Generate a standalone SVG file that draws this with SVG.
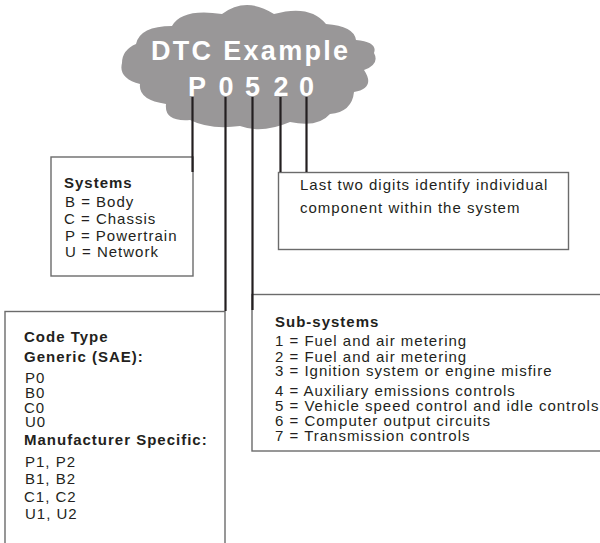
<svg xmlns="http://www.w3.org/2000/svg" width="600" height="543" viewBox="0 0 600 543">
<style>
  .box { fill: #ffffff; stroke: #6b6b6b; stroke-width: 1.4; }
  .conn { stroke: #231f20; stroke-width: 2.2; fill: none; }
  .t { font-family: "Liberation Sans", Arial, sans-serif; font-size: 15px; letter-spacing: 1px; fill: #231f20; }
  .b { font-weight: bold; }
  .cloudtext { font-family: "Liberation Sans", Arial, sans-serif; font-weight: bold; fill: #ffffff; font-size: 27px; }
</style>
<rect width="600" height="543" fill="#ffffff"/>

<g id="cloud">
  <path fill="#999798" d="M 172 26 Q 182 8 222 14 Q 246 -4 274 14 Q 310 4 326 24 Q 354 26 356 40 Q 378 42 374 53 Q 380 64 364 70 Q 376 88 354 92 Q 352 112 330 114 Q 318 128 290 122 Q 262 134 240 126 Q 210 130 190 120 Q 164 122 166 104 Q 138 100 140 84 Q 118 78 122 63 Q 122 50 136 44 Q 140 26 172 26 Z"/>
  <text class="cloudtext" x="151" y="60" letter-spacing="2.3">DTC Example</text>
  <text class="cloudtext" y="96" text-anchor="middle"><tspan x="197">P</tspan><tspan x="226">0</tspan><tspan x="252.5">5</tspan><tspan x="281">2</tspan><tspan x="306.5">0</tspan></text>
</g>

<g id="systems">
  <rect class="box" x="51" y="157" width="142" height="119"/>
  <text class="t b" x="64" y="188">Systems</text>
  <text class="t" x="65" y="207">B = Body</text>
  <text class="t" x="64" y="224">C = Chassis</text>
  <text class="t" x="65" y="241">P = Powertrain</text>
  <text class="t" x="65" y="257">U = Network</text>
</g>

<g id="last-two">
  <rect class="box" x="278.5" y="172.5" width="290" height="77"/>
  <text class="t" x="300" y="190">Last two digits identify individual</text>
  <text class="t" x="300" y="213">component within the system</text>
</g>

<g id="code-type">
  <rect class="box" x="5" y="311.5" width="220" height="240"/>
  <text class="t b" x="24" y="342">Code Type</text>
  <text class="t b" x="24" y="362">Generic (SAE):</text>
  <text class="t" x="25" y="383">P0</text>
  <text class="t" x="25" y="398">B0</text>
  <text class="t" x="24" y="413">C0</text>
  <text class="t" x="25" y="427">U0</text>
  <text class="t b" x="24" y="445">Manufacturer Specific:</text>
  <text class="t" x="25" y="467">P1, P2</text>
  <text class="t" x="25" y="484">B1, B2</text>
  <text class="t" x="24" y="502">C1, C2</text>
  <text class="t" x="25" y="519">U1, U2</text>
</g>

<g id="sub-systems">
  <rect class="box" x="252" y="294.5" width="360" height="156.5"/>
  <text class="t b" x="275" y="327">Sub-systems</text>
  <text class="t" x="275" y="346">1 = Fuel and air metering</text>
  <text class="t" x="275" y="362">2 = Fuel and air metering</text>
  <text class="t" x="275" y="376">3 = Ignition system or engine misfire</text>
  <text class="t" x="275" y="396">4 = Auxiliary emissions controls</text>
  <text class="t" x="275" y="411">5 = Vehicle speed control and idle controls</text>
  <text class="t" x="275" y="426">6 = Computer output circuits</text>
  <text class="t" x="275" y="441">7 = Transmission controls</text>
</g>

<g id="connectors">
  <line class="conn" x1="192.5" y1="97" x2="192.5" y2="172"/>
  <line class="conn" x1="225.5" y1="97" x2="225.5" y2="311"/>
  <line class="conn" x1="252.5" y1="97" x2="252.5" y2="310"/>
  <line class="conn" x1="280.5" y1="97" x2="280.5" y2="172"/>
  <line class="conn" x1="306.5" y1="97" x2="306.5" y2="172"/>
</g>
</svg>
